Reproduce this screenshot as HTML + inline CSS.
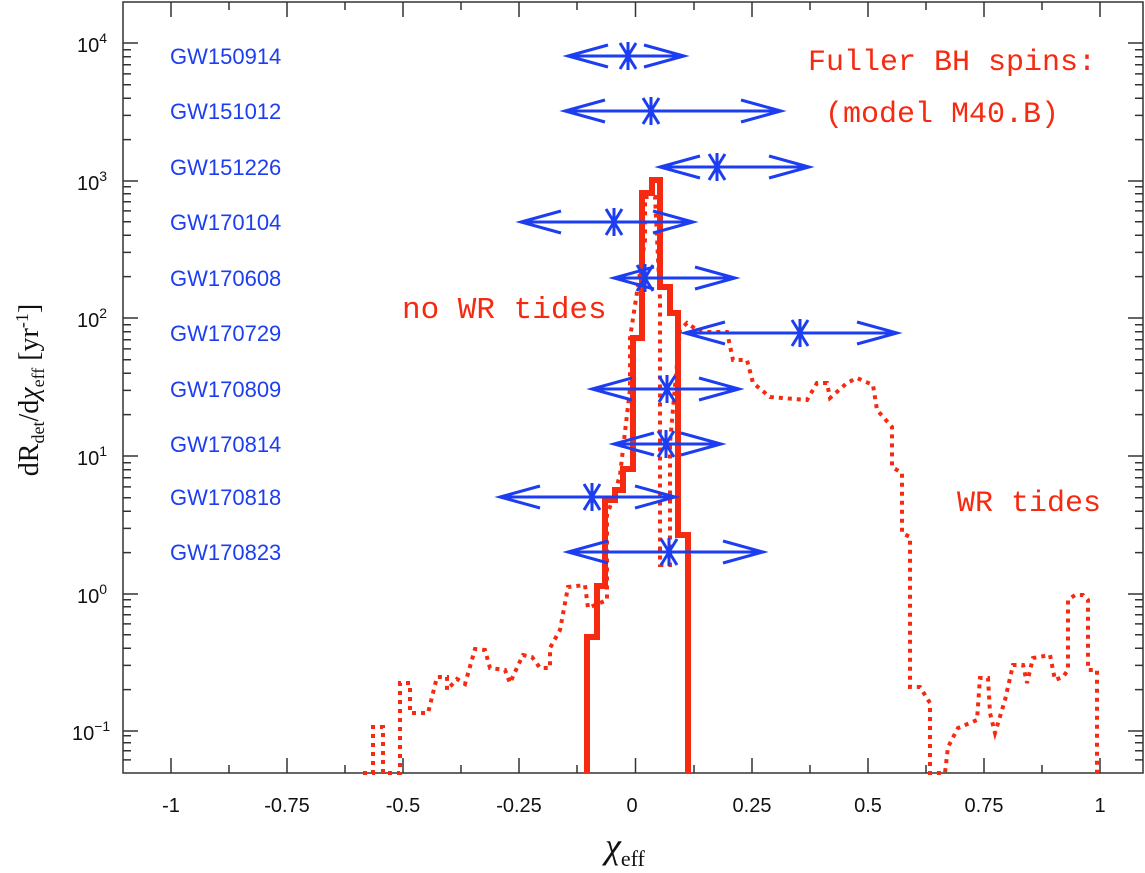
<!DOCTYPE html>
<html><head><meta charset="utf-8"><style>
html,body{margin:0;padding:0;background:#fff}
svg{display:block}
.s{font-family:"Liberation Sans",sans-serif}
.m{font-family:"Liberation Mono",monospace}
.r{font-family:"Liberation Serif",serif}
</style></head><body>
<svg width="1145" height="873" viewBox="0 0 1145 873" xmlns="http://www.w3.org/2000/svg">
<defs><path id="st" d="M-14,0H14M-8,-13L8,13M8,-13L-8,13M0,-14V14"/></defs>
<rect x="123" y="2" width="1020" height="771" fill="none" stroke="#333" stroke-width="1.5"/>
<g stroke="#333" stroke-width="1.5" fill="none">
<path d="M171,773v-15M287,773v-15M403,773v-15M519,773v-15M635.5,773v-15M752,773v-15M868,773v-15M984,773v-15M1100,773v-15
M171,2v15M287,2v15M403,2v15M519,2v15M635.5,2v15M752,2v15M868,2v15M984,2v15M1100,2v15
M229,773v-8M345,773v-8M461,773v-8M577,773v-8M694,773v-8M810,773v-8M926,773v-8M1042,773v-8
M229,2v8M345,2v8M461,2v8M577,2v8M694,2v8M810,2v8M926,2v8M1042,2v8"/>
<path d="M123,43h15M123,181h15M123,318h15M123,456h15M123,594h15M123,731h15
M1143,43h-15M1143,181h-15M1143,318h-15M1143,456h-15M1143,594h-15M1143,731h-15"/>
<path d="M123,139.6h8M123,115.4h8M123,98.2h8M123,84.8h8M123,73.9h8M123,64.7h8M123,56.7h8M123,49.7h8
M123,276.6h8M123,252.4h8M123,235.2h8M123,221.8h8M123,210.9h8M123,201.7h8M123,193.7h8M123,186.7h8
M123,414.6h8M123,390.4h8M123,373.2h8M123,359.8h8M123,348.9h8M123,339.7h8M123,331.7h8M123,324.7h8
M123,552.6h8M123,528.4h8M123,511.2h8M123,497.8h8M123,486.9h8M123,477.7h8M123,469.7h8M123,462.7h8
M123,689.6h8M123,665.4h8M123,648.2h8M123,634.8h8M123,623.9h8M123,614.7h8M123,606.7h8M123,599.7h8
M123,759.9h8M123,750.7h8M123,742.7h8M123,735.7h8
M1143,139.6h-8M1143,115.4h-8M1143,98.2h-8M1143,84.8h-8M1143,73.9h-8M1143,64.7h-8M1143,56.7h-8M1143,49.7h-8
M1143,276.6h-8M1143,252.4h-8M1143,235.2h-8M1143,221.8h-8M1143,210.9h-8M1143,201.7h-8M1143,193.7h-8M1143,186.7h-8
M1143,414.6h-8M1143,390.4h-8M1143,373.2h-8M1143,359.8h-8M1143,348.9h-8M1143,339.7h-8M1143,331.7h-8M1143,324.7h-8
M1143,552.6h-8M1143,528.4h-8M1143,511.2h-8M1143,497.8h-8M1143,486.9h-8M1143,477.7h-8M1143,469.7h-8M1143,462.7h-8
M1143,689.6h-8M1143,665.4h-8M1143,648.2h-8M1143,634.8h-8M1143,623.9h-8M1143,614.7h-8M1143,606.7h-8M1143,599.7h-8
M1143,759.9h-8M1143,750.7h-8M1143,742.7h-8M1143,735.7h-8"/>
</g>
<g class="s" font-size="20" fill="#111" text-anchor="middle">
<text x="171" y="812">-1</text><text x="287" y="812">-0.75</text><text x="403" y="812">-0.5</text>
<text x="519" y="812">-0.25</text><text x="632" y="812">0</text><text x="752" y="812">0.25</text>
<text x="868" y="812">0.5</text><text x="984" y="812">0.75</text><text x="1100" y="812">1</text>
</g>
<g class="s" font-size="20" fill="#111">
<text x="77" y="52">10<tspan font-size="14" dy="-9">4</tspan></text>
<text x="77" y="190">10<tspan font-size="14" dy="-9">3</tspan></text>
<text x="77" y="327">10<tspan font-size="14" dy="-9">2</tspan></text>
<text x="77" y="465">10<tspan font-size="14" dy="-9">1</tspan></text>
<text x="77" y="603">10<tspan font-size="14" dy="-9">0</tspan></text>
<text x="72" y="740">10<tspan font-size="14" dy="-9">−1</tspan></text>
</g>
<text class="r" transform="translate(38,390) rotate(-90)" text-anchor="middle" font-size="28" fill="#111">dR<tspan font-size="18" dy="6">det</tspan><tspan dy="-6">/d</tspan><tspan font-style="italic">χ</tspan><tspan font-size="18" dy="6">eff</tspan><tspan dy="-6"> [yr</tspan><tspan font-size="18" dy="-10">-1</tspan><tspan dy="10">]</tspan></text>
<text class="r" x="605" y="858" font-size="36" fill="#111" font-style="italic">χ<tspan font-size="22" dy="8" font-style="normal">eff</tspan></text>

<path fill="none" stroke="#f52a10" stroke-width="4" stroke-dasharray="4 5" d="M363,773 L373,773 L373,727 L383,727 L383,773 L400,773 L400,683 L410,683 L410,713 L428,713 L437,677 L447,677 L447,690 L457,679 L465,684 L475,649 L485,650 L490,668 L505,670 L510,683 L515,672 L523,655 L532,657 L540,668 L550,668 L550,648 L560,630 L568,587 L585,585 L588,608 L600,603 L607,600 L607,514 L612,502 L620,475 L630,389 L630,338 L645,240 L645,197 L655,197 L660,299 L660,565 L670,565 L670,443 L680,330 L687,323 L700,332 L727,332 L733,360 L747,360 L753,383 L770,397 L807,400 L817,383 L827,383 L830,398 L847,383 L857,378 L873,385 L877,410 L892,427 L892,467 L902,473 L902,533 L910,537 L910,687 L920,687 L930,703 L930,773 L945,773 L948,747 L958,728 L977,720 L980,678 L988,678 L990,713 L995,733 L1005,700 L1013,665 L1023,665 L1027,683 L1033,658 L1050,655 L1055,680 L1063,677 L1068,670 L1068,600 L1075,595 L1083,595 L1088,600 L1088,670 L1097,670 L1097,773"/>
<path fill="none" stroke="#f52a10" stroke-width="6" d="M587,773 L587,637 L597,637 L597,586 L605,586 L605,500 L615,500 L615,490 L623,490 L623,469 L633,469 L633,338 L642,338 L642,193 L652,193 L652,180 L660,180 L660,287 L670,287 L670,313 L678,313 L678,535 L688,535 L688,773"/>

<g class="s" fill="#1d3ef0" font-size="22">
<text x="170" y="64">GW150914</text><text x="170" y="119">GW151012</text><text x="170" y="175">GW151226</text>
<text x="170" y="230">GW170104</text><text x="170" y="286">GW170608</text><text x="170" y="341">GW170729</text>
<text x="170" y="397">GW170809</text><text x="170" y="452">GW170814</text><text x="170" y="505">GW170818</text>
<text x="170" y="560">GW170823</text>
</g>
<g stroke="#1d3ef0" stroke-width="3" fill="none">
<path d="M568,56H684M608,45L568,56L608,67M644,45L684,56L644,67"/>
<path d="M565,111H781M605,100L565,111L605,122M741,100L781,111L741,122"/>
<path d="M660,167H809M700,156L660,167L700,178M769,156L809,167L769,178"/>
<path d="M521,222H693M561,211L521,222L561,233M653,211L693,222L653,233"/>
<path d="M614,278H735M654,267L614,278L654,289M695,267L735,278L695,289"/>
<path d="M685,333H897M725,322L685,333L725,344M857,322L897,333L857,344"/>
<path d="M592,389H739M632,378L592,389L632,400M699,378L739,389L699,400"/>
<path d="M614,444H721M654,433L614,444L654,455M681,433L721,444L681,455"/>
<path d="M500,497H675M540,486L500,497L540,508M635,486L675,497L635,508"/>
<path d="M568,552H763M608,541L568,552L608,563M723,541L763,552L723,563"/>
<use href="#st" x="628" y="56"/><use href="#st" x="651" y="111"/><use href="#st" x="717" y="167"/>
<use href="#st" x="614" y="222"/><use href="#st" x="645" y="278"/><use href="#st" x="800" y="333"/>
<use href="#st" x="667" y="389"/><use href="#st" x="666" y="444"/><use href="#st" x="592" y="497"/>
<use href="#st" x="669" y="552"/>
</g>
<g class="m" fill="#f52a10">
<text x="808" y="70" font-size="30">Fuller BH spins:</text>
<text x="825" y="122" font-size="30">(model M40.B)</text>
<text x="402" y="318" font-size="31">no WR tides</text>
<text x="957" y="511" font-size="30">WR tides</text>
</g>
</svg>
</body></html>
